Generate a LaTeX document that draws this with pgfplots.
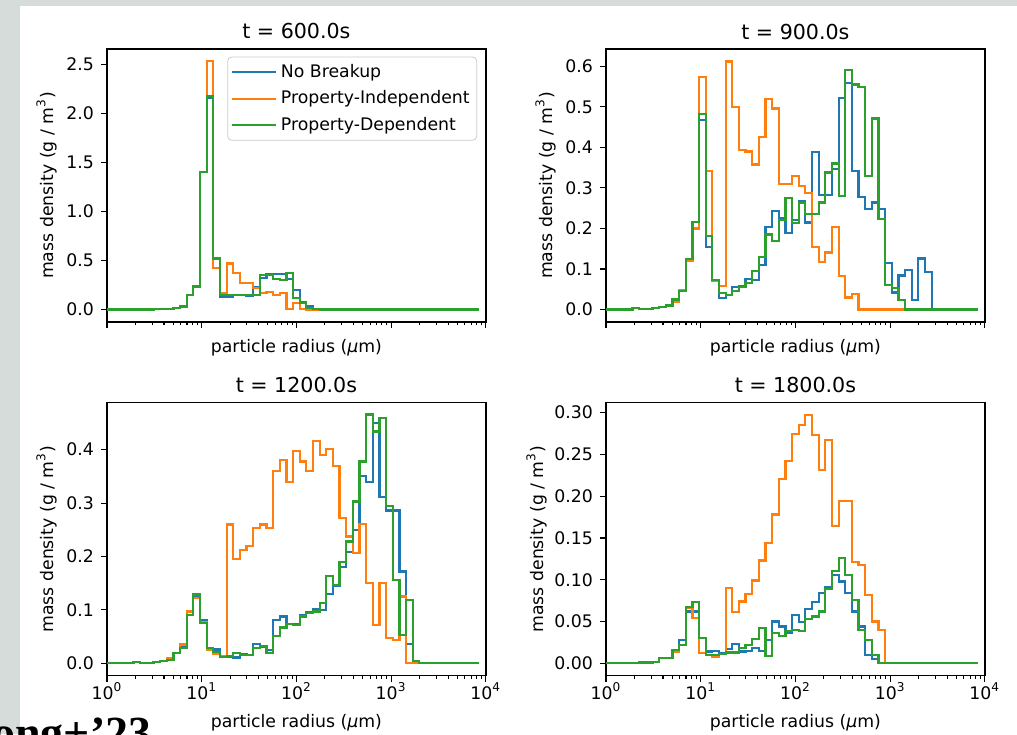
\documentclass[border=0pt]{standalone}
\usepackage{pgfplots}
\pgfplotsset{compat=1.18}
\usepackage{pgfplotstable}
\usepackage{fontspec}
\setmainfont{DejaVu Sans}
\newfontfamily\serifbold{Liberation Serif}
\definecolor{tabblue}{HTML}{1F77B4}
\definecolor{taborange}{HTML}{FF7F0E}
\definecolor{tabgreen}{HTML}{2CA02C}
\definecolor{slidebg}{HTML}{D5DCD9}

% k = bin index (log10 r = k*4/57); nb = No Breakup, pi = Property-Independent, pd = Property-Dependent
\pgfplotstableread{
k nb pi pd
0 0 0 0
1 0 0 0
2 0 0 0
3 0 0 0
4 0 0 0
5 0 0 0
6 0.001 0.001 0.001
7 0.002 0.002 0.002
8 0.004 0.004 0.004
9 0.008 0.008 0.008
10 0.02 0.02 0.02
11 0.032 0.032 0.032
12 0.15 0.15 0.15
13 0.235 0.23 0.235
14 1.40 1.40 1.40
15 2.16 2.53 2.18
16 0.52 0.42 0.52
17 0.13 0.165 0.15
18 0.13 0.47 0.15
19 0.15 0.37 0.15
20 0.15 0.27 0.15
21 0.14 0.27 0.15
22 0.23 0.22 0.15
23 0.32 0.167 0.35
24 0.36 0.18 0.35
25 0.36 0.15 0.31
26 0.36 0.167 0.30
27 0.31 0.01 0.37
28 0.20 0.07 0.12
29 0.08 0.01 0.07
30 0.04 0 0.015
31 0.01 0 0.005
32 0 0 0
33 0 0 0
34 0 0 0
35 0 0 0
36 0 0 0
37 0 0 0
38 0 0 0
39 0 0 0
40 0 0 0
41 0 0 0
42 0 0 0
43 0 0 0
44 0 0 0
45 0 0 0
46 0 0 0
47 0 0 0
48 0 0 0
49 0 0 0
50 0 0 0
51 0 0 0
52 0 0 0
53 0 0 0
54 0 0 0
55 0 0 0
56 0 0 0
}\tabA

\pgfplotstableread{
k nb pi pd
0 0 0 0
1 0 0 0
2 0 0 0
3 0 0 0
4 0.003 0.003 0.003
5 0.002 0.002 0.002
6 0.002 0.002 0.002
7 0.004 0.004 0.004
8 0.007 0.007 0.007
9 0.01 0.01 0.01
10 0.025 0.02 0.025
11 0.045 0.048 0.045
12 0.125 0.12 0.125
13 0.216 0.20 0.216
14 0.467 0.574 0.482
15 0.155 0.342 0.181
16 0.073 0.07 0.073
17 0.028 0.058 0.04
18 0.036 0.612 0.036
19 0.055 0.50 0.045
20 0.057 0.393 0.055
21 0.075 0.39 0.065
22 0.072 0.358 0.095
23 0.11 0.426 0.13
24 0.204 0.52 0.185
25 0.244 0.496 0.17
26 0.226 0.309 0.22
27 0.188 0.309 0.276
28 0.22 0.33 0.214
29 0.267 0.305 0.262
30 0.215 0.287 0.236
31 0.389 0.155 0.236
32 0.282 0.117 0.264
33 0.282 0.141 0.338
34 0.346 0.204 0.36
35 0.522 0.083 0.28
36 0.559 0.03 0.59
37 0.342 0.039 0.555
38 0.278 0 0.549
39 0.248 0 0.329
40 0.264 0 0.471
41 0.248 0 0.223
42 0.114 0 0.061
43 0.042 0 0.053
44 0.084 0 0.024
45 0.098 0 0
46 0.024 0 0
47 0.126 0 0
48 0.092 0 0
49 0 0 0
50 0 0 0
51 0 0 0
52 0 0 0
53 0 0 0
54 0 0 0
55 0 0 0
56 0 0 0
}\tabB

\pgfplotstableread{
k nb pi pd
0 0 0 0
1 0 0 0
2 0 0 0
3 0 0 0
4 0.002 0.002 0.002
5 0.001 0.001 0.001
6 0.001 0.001 0.001
7 0.003 0.003 0.003
8 0.005 0.005 0.005
9 0.006 0.009 0.006
10 0.019 0.02 0.019
11 0.03 0.035 0.028
12 0.09 0.097 0.09
13 0.125 0.123 0.129
14 0.08 0.078 0.076
15 0.028 0.025 0.028
16 0.026 0.0175 0.021
17 0.014 0.014 0.0125
18 0.0125 0.26 0.014
19 0.011 0.195 0.019
20 0.0175 0.2125 0.016
21 0.016 0.22 0.016
22 0.036 0.254 0.028
23 0.03 0.26 0.0325
24 0.025 0.254 0.019
25 0.081 0.36 0.051
26 0.0875 0.381 0.067
27 0.074 0.34 0.074
28 0.074 0.398 0.072
29 0.091 0.378 0.0875
30 0.096 0.36 0.094
31 0.101 0.417 0.097
32 0.10 0.39 0.1125
33 0.13 0.402 0.164
34 0.145 0.369 0.147
35 0.18 0.272 0.19
36 0.209 0.2375 0.228
37 0.25 0.206 0.303
38 0.35 0.261 0.378
39 0.34 0.15 0.466
40 0.45 0.072 0.434
41 0.311 0.15 0.46
42 0.286 0.047 0.294
43 0.286 0.044 0.156
44 0.172 0.125 0.053
45 0.036 0 0.119
46 0 0 0.005
47 0 0 0
48 0 0 0
49 0 0 0
50 0 0 0
51 0 0 0
52 0 0 0
53 0 0 0
54 0 0 0
55 0 0 0
56 0 0 0
}\tabC

\pgfplotstableread{
k nb pi pd
0 0 0 0
1 0 0 0
2 0 0 0
3 0 0 0
4 0 0 0
5 0.001 0.001 0.001
6 0.001 0.001 0.001
7 0.002 0.002 0.002
8 0.006 0.006 0.006
9 0.006 0.006 0.006
10 0.016 0.014 0.016
11 0.028 0.022 0.022
12 0.062 0.066 0.067
13 0.062 0.054 0.073
14 0.03 0.012 0.03
15 0.014 0.01 0.01
16 0.015 0.008 0.01
17 0.012 0.011 0.011
18 0.017 0.09 0.013
19 0.023 0.061 0.013
20 0.014 0.074 0.018
21 0.015 0.083 0.022
22 0.018 0.099 0.029
23 0.015 0.123 0.042
24 0.028 0.144 0.009
25 0.05 0.178 0.036
26 0.044 0.221 0.033
27 0.036 0.242 0.039
28 0.058 0.274 0.04
29 0.049 0.285 0.039
30 0.065 0.297 0.053
31 0.073 0.273 0.056
32 0.084 0.231 0.062
33 0.091 0.267 0.089
34 0.106 0.164 0.11
35 0.098 0.194 0.126
36 0.084 0.194 0.106
37 0.062 0.121 0.076
38 0.044 0.118 0.04
39 0.01 0.082 0.028
40 0.005 0.05 0.01
41 0 0.04 0
42 0 0 0
43 0 0 0
44 0 0 0
45 0 0 0
46 0 0 0
47 0 0 0
48 0 0 0
49 0 0 0
50 0 0 0
51 0 0 0
52 0 0 0
53 0 0 0
54 0 0 0
55 0 0 0
56 0 0 0
}\tabD

\begin{document}
\begin{tikzpicture}
\path[use as bounding box] (0,0) rectangle (508.5pt,367pt);
\clip (0,0) rectangle (508.5pt,367pt);
\fill[slidebg] (0,0) rectangle (508.5pt,367pt);
\fill[white] (10pt,0) rectangle (508.5pt,364pt);
\node[anchor=base west, inner sep=0pt, font=\serifbold\bfseries\fontsize{23}{23}\selectfont] at (-4pt,-7pt) {ong+’23};

\begin{axis}[at={(53.5pt,206pt)}, anchor=south west,
  scale only axis, width=189.4pt, height=136.5pt,
  xmode=log, xmin=1, xmax=10000,
  xtick={1,10,100,1000,10000},
  minor xtick={2,3,4,5,6,7,8,9,20,30,40,50,60,70,80,90,200,300,400,500,600,700,800,900,2000,3000,4000,5000,6000,7000,8000,9000},
  xticklabels={},
  xtick pos=left, ytick pos=left, tick align=outside,
  major tick length=3pt, minor tick length=1.75pt,
  tick style={black, line width=0.55pt},
  axis line style={line width=0.7pt},
  /pgf/number format/assume math mode=true,
  yticklabel style={/pgf/number format/fixed, /pgf/number format/fixed zerofill, /pgf/number format/precision=1},
  scaled y ticks=false,
  tick label style={font=\fontsize{8.65}{10}\selectfont},
  label style={font=\fontsize{8.65}{10}\selectfont},
  title style={font=\fontsize{10.3}{12}\selectfont, at={(axis description cs:0.5,1.0366)}, anchor=base, yshift=-6pt},
  ylabel={mass density (g / m\textsuperscript{3})},
  xlabel={particle radius (\textit{μ}m)},
  ylabel style={at={(axis description cs:-0.1425,0.5)}, anchor=base},
  xlabel style={at={(axis description cs:0.5,-0.110)}, anchor=base},
  title={t = 600.0s}, ymin=-0.1265, ymax=2.656, ytick={0,0.5,1,1.5,2,2.5},
  legend cell align=left,
  legend style={at={(axis description cs:0.977,0.972)}, anchor=north east,
    draw=black!20, rounded corners=2pt, fill=white, fill opacity=0.8, text opacity=1,
    font=\fontsize{8.65}{10}\selectfont, inner sep=1.5pt, row sep=1.2pt},
  ]
\addplot[tabblue, const plot, line width=1.1pt, forget plot] table[x expr={10^(\thisrow{k}/14.25)}, y=nb] {\tabA};
\addplot[taborange, const plot, line width=1.1pt, forget plot] table[x expr={10^(\thisrow{k}/14.25)}, y=pi] {\tabA};
\addplot[tabgreen, const plot, line width=1.1pt, forget plot] table[x expr={10^(\thisrow{k}/14.25)}, y=pd] {\tabA};
\addlegendimage{legend image code/.code={\draw[tabblue, line width=1.1pt] (0pt,0pt) -- (22pt,0pt);}}
\addlegendentry{No Breakup}
\addlegendimage{legend image code/.code={\draw[taborange, line width=1.1pt] (0pt,0pt) -- (22pt,0pt);}}
\addlegendentry{Property-Independent}
\addlegendimage{legend image code/.code={\draw[tabgreen, line width=1.1pt] (0pt,0pt) -- (22pt,0pt);}}
\addlegendentry{Property-Dependent}
\end{axis}

\begin{axis}[at={(303pt,206pt)}, anchor=south west,
  scale only axis, width=189.4pt, height=136.5pt,
  xmode=log, xmin=1, xmax=10000,
  xtick={1,10,100,1000,10000},
  minor xtick={2,3,4,5,6,7,8,9,20,30,40,50,60,70,80,90,200,300,400,500,600,700,800,900,2000,3000,4000,5000,6000,7000,8000,9000},
  xticklabels={},
  xtick pos=left, ytick pos=left, tick align=outside,
  major tick length=3pt, minor tick length=1.75pt,
  tick style={black, line width=0.55pt},
  axis line style={line width=0.7pt},
  /pgf/number format/assume math mode=true,
  yticklabel style={/pgf/number format/fixed, /pgf/number format/fixed zerofill, /pgf/number format/precision=1},
  scaled y ticks=false,
  tick label style={font=\fontsize{8.65}{10}\selectfont},
  label style={font=\fontsize{8.65}{10}\selectfont},
  title style={font=\fontsize{10.3}{12}\selectfont, at={(axis description cs:0.5,1.0366)}, anchor=base, yshift=-6pt},
  ylabel={mass density (g / m\textsuperscript{3})},
  xlabel={particle radius (\textit{μ}m)},
  ylabel style={at={(axis description cs:-0.1425,0.5)}, anchor=base},
  xlabel style={at={(axis description cs:0.5,-0.110)}, anchor=base},
  title={t = 900.0s}, ymin=-0.0306, ymax=0.6426, ytick={0,0.1,0.2,0.3,0.4,0.5,0.6}]
\addplot[tabblue, const plot, line width=1.1pt] table[x expr={10^(\thisrow{k}/14.25)}, y=nb] {\tabB};
\addplot[taborange, const plot, line width=1.1pt] table[x expr={10^(\thisrow{k}/14.25)}, y=pi] {\tabB};
\addplot[tabgreen, const plot, line width=1.1pt] table[x expr={10^(\thisrow{k}/14.25)}, y=pd] {\tabB};
\end{axis}

\begin{axis}[at={(53.5pt,29.15pt)}, anchor=south west,
  scale only axis, width=189.4pt, height=136.5pt,
  xmode=log, xmin=1, xmax=10000,
  xtick={1,10,100,1000,10000},
  minor xtick={2,3,4,5,6,7,8,9,20,30,40,50,60,70,80,90,200,300,400,500,600,700,800,900,2000,3000,4000,5000,6000,7000,8000,9000},
  xticklabels={10\textsuperscript{0},10\textsuperscript{1},10\textsuperscript{2},10\textsuperscript{3},10\textsuperscript{4}},
  xticklabel style={yshift=3pt},
  xtick pos=left, ytick pos=left, tick align=outside,
  major tick length=3pt, minor tick length=1.75pt,
  tick style={black, line width=0.55pt},
  axis line style={line width=0.7pt},
  /pgf/number format/assume math mode=true,
  yticklabel style={/pgf/number format/fixed, /pgf/number format/fixed zerofill, /pgf/number format/precision=1},
  scaled y ticks=false,
  tick label style={font=\fontsize{8.65}{10}\selectfont},
  label style={font=\fontsize{8.65}{10}\selectfont},
  title style={font=\fontsize{10.3}{12}\selectfont, at={(axis description cs:0.5,1.0366)}, anchor=base, yshift=-6pt},
  ylabel={mass density (g / m\textsuperscript{3})},
  xlabel={particle radius (\textit{μ}m)},
  ylabel style={at={(axis description cs:-0.1425,0.5)}, anchor=base},
  xlabel style={at={(axis description cs:0.5,-0.191)}, anchor=base},
  title={t = 1200.0s}, ymin=-0.02325, ymax=0.488, ytick={0,0.1,0.2,0.3,0.4}]
\addplot[tabblue, const plot, line width=1.1pt] table[x expr={10^(\thisrow{k}/14.25)}, y=nb] {\tabC};
\addplot[taborange, const plot, line width=1.1pt] table[x expr={10^(\thisrow{k}/14.25)}, y=pi] {\tabC};
\addplot[tabgreen, const plot, line width=1.1pt] table[x expr={10^(\thisrow{k}/14.25)}, y=pd] {\tabC};
\end{axis}

\begin{axis}[at={(303pt,29.15pt)}, anchor=south west,
  scale only axis, width=189.4pt, height=136.5pt,
  xmode=log, xmin=1, xmax=10000,
  xtick={1,10,100,1000,10000},
  minor xtick={2,3,4,5,6,7,8,9,20,30,40,50,60,70,80,90,200,300,400,500,600,700,800,900,2000,3000,4000,5000,6000,7000,8000,9000},
  xticklabels={10\textsuperscript{0},10\textsuperscript{1},10\textsuperscript{2},10\textsuperscript{3},10\textsuperscript{4}},
  xticklabel style={yshift=3pt},
  xtick pos=left, ytick pos=left, tick align=outside,
  major tick length=3pt, minor tick length=1.75pt,
  tick style={black, line width=0.55pt},
  axis line style={line width=0.7pt},
  /pgf/number format/assume math mode=true,
  yticklabel style={/pgf/number format/fixed, /pgf/number format/fixed zerofill, /pgf/number format/precision=2},
  scaled y ticks=false,
  tick label style={font=\fontsize{8.65}{10}\selectfont},
  label style={font=\fontsize{8.65}{10}\selectfont},
  title style={font=\fontsize{10.3}{12}\selectfont, at={(axis description cs:0.5,1.0366)}, anchor=base, yshift=-6pt},
  ylabel={mass density (g / m\textsuperscript{3})},
  xlabel={particle radius (\textit{μ}m)},
  ylabel style={at={(axis description cs:-0.166,0.5)}, anchor=base},
  xlabel style={at={(axis description cs:0.5,-0.191)}, anchor=base},
  title={t = 1800.0s}, ymin=-0.01485, ymax=0.3119, ytick={0,0.05,0.1,0.15,0.2,0.25,0.3}]
\addplot[tabblue, const plot, line width=1.1pt] table[x expr={10^(\thisrow{k}/14.25)}, y=nb] {\tabD};
\addplot[taborange, const plot, line width=1.1pt] table[x expr={10^(\thisrow{k}/14.25)}, y=pi] {\tabD};
\addplot[tabgreen, const plot, line width=1.1pt] table[x expr={10^(\thisrow{k}/14.25)}, y=pd] {\tabD};
\end{axis}
\end{tikzpicture}
\end{document}
